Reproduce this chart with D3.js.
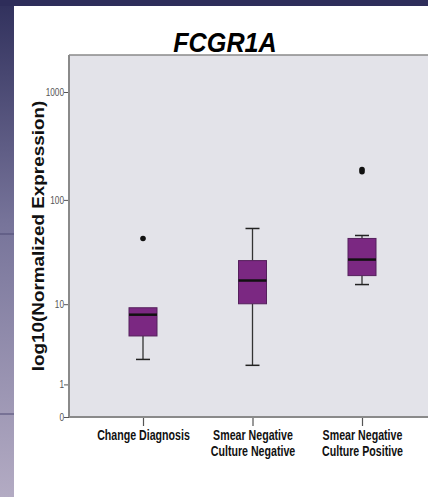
<!DOCTYPE html>
<html>
<head>
<meta charset="utf-8">
<script src="https://cdn.jsdelivr.net/npm/d3@7"></script>
<style>
  body { margin: 0; padding: 0; overflow: hidden; }
  svg { display: block; }
</style>
</head>
<body>
<div id="chart"></div>
<script>
// data
const categories = ["Change Diagnosis", "Smear Negative\nCulture Negative", "Smear Negative\nCulture Positive"];
const whiskerLow = [2.4, 2.0, 15.7];
const q1 = [4.6, 10.1, 19.2];
const medians = [7.8, 17.2, 27.4];
const q3 = [9.2, 26.8, 43.5];
const whiskerHigh = [9.2, 54, 46.4];
const outliers = [[43.5], [], [183, 192]];
const yTicks = [0, 1, 10, 100, 1000];

const width = 428,
  height = 497;
const plot = { left: 69, top: 55, right: 428, bottom: 417 };
const font = "'Liberation Sans', Arial, sans-serif";

const svg = d3.select("#chart")
  .append("svg")
  .attr("width", width)
  .attr("height", height);

// slide background: dark band on top and left
const grad = svg.append("defs").append("linearGradient")
  .attr("id", "strip").attr("x1", 0).attr("y1", 0).attr("x2", 0).attr("y2", 1);
grad.append("stop").attr("offset", "0%").attr("stop-color", "#30305c");
grad.append("stop").attr("offset", "45%").attr("stop-color", "#77749a");
grad.append("stop").attr("offset", "100%").attr("stop-color", "#b3abc3");

svg.append("rect").attr("width", width).attr("height", height).attr("fill", "#ffffff");
svg.append("rect").attr("width", 14).attr("height", height).attr("fill", "url(#strip)");
svg.append("rect").attr("width", width).attr("height", 6).attr("fill", "#2e2d5a");
[234, 414].forEach(yy => {
  svg.append("line")
    .attr("x1", 0).attr("x2", 14).attr("y1", yy).attr("y2", yy)
    .attr("stroke", "#4e4b74").attr("stroke-width", 1);
});

// plot area
svg.append("rect")
  .attr("x", plot.left).attr("y", plot.top)
  .attr("width", plot.right - plot.left).attr("height", plot.bottom - plot.top)
  .attr("fill", "#e3e3e9");
svg.append("line")
  .attr("x1", plot.left).attr("x2", plot.right)
  .attr("y1", plot.top).attr("y2", plot.top)
  .attr("stroke", "#8a8a8a").attr("stroke-width", 1.5);

// scales
const x = d3.scalePoint()
  .domain(categories)
  .range([plot.left + 74, plot.left + 293]);

const y = d3.scaleSymlog()
  .constant(1)
  .domain([0, 1000])
  .range([plot.bottom, 92]);

// y axis
const yAxis = svg.append("g")
  .attr("transform", `translate(${plot.left},0)`)
  .call(d3.axisLeft(y).tickValues(yTicks).tickSize(5).tickSizeOuter(0).tickFormat(d3.format("d")));
yAxis.select(".domain").remove();
yAxis.selectAll(".tick line").attr("stroke", "#555").attr("stroke-width", 1);
yAxis.selectAll(".tick text")
  .attr("x", null)
  .attr("transform", "translate(-5,0) scale(0.75,1)")
  .style("font-family", font)
  .style("font-size", "11px")
  .attr("fill", "#555");
svg.append("line")
  .attr("x1", plot.left).attr("x2", plot.left)
  .attr("y1", plot.top).attr("y2", plot.bottom)
  .attr("stroke", "#8a8a8a").attr("stroke-width", 2);

// x axis
const xAxis = svg.append("g")
  .attr("transform", `translate(0,${plot.bottom})`)
  .call(d3.axisBottom(x).tickSize(9).tickSizeOuter(0));
xAxis.select(".domain").remove();
xAxis.selectAll(".tick line").attr("stroke", "#555").attr("stroke-width", 1.2);
xAxis.selectAll(".tick text").remove();
xAxis.selectAll(".tick").each(function (d) {
  const tick = d3.select(this);
  d.split("\n").forEach((line, i) => {
    tick.append("text")
      .attr("text-anchor", "middle")
      .attr("transform", `translate(0,${23 + i * 16}) scale(0.76,1)`)
      .attr("fill", "#111")
      .style("font-family", font)
      .style("font-size", "14px")
      .style("font-weight", "bold")
      .text(line);
  });
});
svg.append("line")
  .attr("x1", plot.left).attr("x2", plot.right)
  .attr("y1", plot.bottom).attr("y2", plot.bottom)
  .attr("stroke", "#8a8a8a").attr("stroke-width", 2);

// boxes
const boxW = 28;
const boxes = categories.map((c, i) => ({
  cat: c, lo: whiskerLow[i], q1: q1[i], med: medians[i], q3: q3[i], hi: whiskerHigh[i], out: outliers[i]
}));

const g = svg.append("g");
const bx = g.selectAll("g.box").data(boxes).join("g").attr("class", "box");

// whisker stems
bx.append("line")
  .attr("x1", d => x(d.cat)).attr("x2", d => x(d.cat))
  .attr("y1", d => y(d.lo)).attr("y2", d => y(d.q1))
  .attr("stroke", "#333").attr("stroke-width", 1.3);
bx.append("line")
  .attr("x1", d => x(d.cat)).attr("x2", d => x(d.cat))
  .attr("y1", d => y(d.q3)).attr("y2", d => y(d.hi))
  .attr("stroke", "#333").attr("stroke-width", 1.3);
// whisker caps
bx.append("line")
  .attr("x1", d => x(d.cat) - boxW / 4).attr("x2", d => x(d.cat) + boxW / 4)
  .attr("y1", d => y(d.lo)).attr("y2", d => y(d.lo))
  .attr("stroke", "#222").attr("stroke-width", 1.5);
bx.filter(d => d.hi > d.q3).append("line")
  .attr("x1", d => x(d.cat) - boxW / 4).attr("x2", d => x(d.cat) + boxW / 4)
  .attr("y1", d => y(d.hi)).attr("y2", d => y(d.hi))
  .attr("stroke", "#222").attr("stroke-width", 1.5);
// box
bx.append("rect")
  .attr("x", d => x(d.cat) - boxW / 2)
  .attr("width", boxW)
  .attr("y", d => y(d.q3))
  .attr("height", d => y(d.q1) - y(d.q3))
  .attr("fill", "#7b2882")
  .attr("stroke", "#55205c")
  .attr("stroke-width", 1);
// median
bx.append("line")
  .attr("x1", d => x(d.cat) - boxW / 2).attr("x2", d => x(d.cat) + boxW / 2)
  .attr("y1", d => y(d.med)).attr("y2", d => y(d.med))
  .attr("stroke", "#111").attr("stroke-width", 2.5);
// outliers
bx.selectAll("circle")
  .data(d => d.out.map(v => ({ cat: d.cat, v: v })))
  .join("circle")
  .attr("cx", d => x(d.cat))
  .attr("cy", d => y(d.v))
  .attr("r", 2.8)
  .attr("fill", "#111");

// y label
svg.append("text")
  .attr("transform", "translate(44,236) rotate(-90) scale(1.18,1)")
  .attr("text-anchor", "middle")
  .style("font-family", font)
  .style("font-size", "16px")
  .style("font-weight", "bold")
  .attr("fill", "#111")
  .text("log10(Normalized Expression)");

// title
svg.append("text")
  .attr("transform", "translate(225,52) scale(0.9,1)")
  .attr("text-anchor", "middle")
  .style("font-family", font)
  .style("font-size", "28px")
  .style("font-weight", "bold")
  .style("font-style", "italic")
  .attr("fill", "#000")
  .text("FCGR1A");
</script>
</body>
</html>
